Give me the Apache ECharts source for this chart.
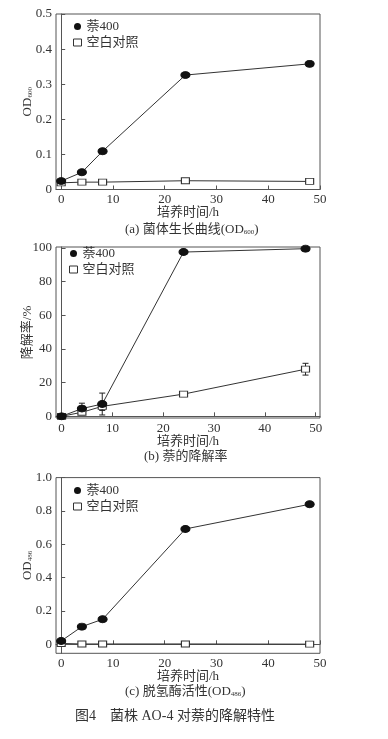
<!DOCTYPE html>
<html><head><meta charset="utf-8">
<script src="https://cdn.jsdelivr.net/npm/echarts@6/dist/echarts.min.js"></script>
<style>html,body{margin:0;padding:0;background:#fff;}#c{width:388px;height:739px;}</style>
</head><body><div id="c"></div>
<script>
const hours = [0, 4, 8, 24, 48];
const xTicks = [0, 10, 20, 30, 40, 50];
// (a) growth OD600
const odNaph = [0.024, 0.049, 0.109, 0.326, 0.358];
const odCtrl = [0.019, 0.021, 0.021, 0.025, 0.023];
const odTicks = [0, 0.1, 0.2, 0.3, 0.4, 0.5];
// (b) degradation rate %
const degNaph = [0, 4.6, 7.3, 97.6, 99.6];
const degNaphErr = [0, 3.2, 6.5, 0, 0];
const degCtrl = [0, 2.4, 5.9, 13.2, 28.0];
const degCtrlErr = [0, 1.2, 2.4, 1.5, 3.5];
const degTicks = [0, 20, 40, 60, 80, 100];
// (c) dehydrogenase OD486
const dhNaph = [0.02, 0.106, 0.15, 0.692, 0.84];
const dhCtrl = [0.005, 0.002, 0.002, 0.002, 0.001];
const dhTicks = [0, 0.2, 0.4, 0.6, 0.8, 1.0];
const names = ['萘400', '空白对照'];

const FONT = '"Liberation Serif", "Noto Sans CJK SC", serif';
const TXT = '#333';
const AX = '#555';
const pair = (xs, ys) => xs.map((x, i) => [x, ys[i]]);

const grids = [
  {left: 56, top: 14, width: 264, height: 175.5},
  {left: 56, top: 247, width: 264, height: 171},
  {left: 56, top: 477.6, width: 264, height: 175.7}
].map(g => Object.assign(g, {show: true, borderColor: AX, borderWidth: 1, containLabel: false}));

function xAxis(idx, min, max) {
  return {
    type: 'value', gridIndex: idx, min: min, max: max,
    name: '培养时间/h', nameLocation: 'middle', nameGap: 17, nameMoveOverlap: false,
    nameTextStyle: {fontFamily: FONT, fontSize: 13, color: TXT},
    axisLine: {show: true, lineStyle: {color: AX, width: 1}},
    axisTick: {show: true, inside: true, length: 4, customValues: xTicks, lineStyle: {color: AX}},
    axisLabel: {customValues: xTicks, fontFamily: FONT, fontSize: 13, color: TXT, margin: 4},
    splitLine: {show: false}
  };
}
function yAxis(idx, min, max, ticks, fmt, name) {
  return {
    type: 'value', gridIndex: idx, min: min, max: max,
    name: name, nameLocation: 'middle', nameGap: 22, nameRotate: 90, nameMoveOverlap: false,
    nameTextStyle: {fontFamily: FONT, fontSize: 13, color: TXT,
      rich: {a: {fontFamily: FONT, fontSize: 13, color: TXT}, b: {fontFamily: FONT, fontSize: 7, color: TXT, verticalAlign: 'bottom', padding: [6, 0, 0, 0]}}},
    axisLine: {show: true, lineStyle: {color: AX, width: 1}},
    axisTick: {show: true, inside: true, length: 4, customValues: ticks, lineStyle: {color: AX}},
    axisLabel: {customValues: ticks, formatter: fmt, fontFamily: FONT, fontSize: 13, color: TXT, margin: 4},
    splitLine: {show: false}
  };
}
const f1 = v => v === 0 ? '0' : v.toFixed(1);
const f0 = v => String(Math.round(v));

function lineSeries(i, name, data, filled) {
  return {
    type: 'line', name: name, xAxisIndex: i, yAxisIndex: i, data: data,
    symbol: filled ? 'circle' : 'rect', symbolSize: filled ? [9, 7] : [8, 6],
    lineStyle: {color: '#333', width: 1},
    itemStyle: filled ? {color: '#111', borderColor: '#111'} : {color: '#fff', borderColor: '#333', borderWidth: 1},
    z: filled ? 4 : 3, animation: false
  };
}
function errSeries(i, ys, errs) {
  return {
    type: 'custom', xAxisIndex: i, yAxisIndex: i, silent: true, animation: false, z: 2,
    data: hours.map((x, k) => [x, ys[k] - errs[k], ys[k] + errs[k]]).filter((d, k) => errs[k] > 0),
    renderItem: function (params, api) {
      const lo = api.coord([api.value(0), api.value(1)]);
      const hi = api.coord([api.value(0), api.value(2)]);
      const w = 3;
      const st = {stroke: '#222', lineWidth: 1};
      return {type: 'group', children: [
        {type: 'line', shape: {x1: lo[0], y1: lo[1], x2: hi[0], y2: hi[1]}, style: st},
        {type: 'line', shape: {x1: lo[0] - w, y1: lo[1], x2: lo[0] + w, y2: lo[1]}, style: st},
        {type: 'line', shape: {x1: hi[0] - w, y1: hi[1], x2: hi[0] + w, y2: hi[1]}, style: st}
      ]};
    }
  };
}
function legend(left, top) {
  return {
    orient: 'vertical', left: left, top: top, itemGap: 3, itemWidth: 8, itemHeight: 7,
    textStyle: {fontFamily: FONT, fontSize: 13, color: TXT},
    selectedMode: false, padding: 0,
    data: [
      {name: names[0], icon: 'circle', itemStyle: {color: '#111', borderWidth: 0}},
      {name: names[1], icon: 'rect', itemStyle: {color: '#fff', borderColor: '#333', borderWidth: 1}}
    ]
  };
}
const rich = {
  t: {fontFamily: FONT, fontSize: 13, color: TXT},
  s: {fontFamily: FONT, fontSize: 7, color: TXT, verticalAlign: 'bottom', padding: [6, 0, 0, 0]}
};
function caption(text, top, size) {
  return {text: text, left: 'center', top: top, padding: 0,
    textStyle: {fontFamily: FONT, fontSize: size || 13, fontWeight: 'normal', color: TXT, rich: rich}};
}

const option = {
  backgroundColor: '#fff',
  animation: false,
  grid: grids,
  title: [
    Object.assign(caption('{t|(a) 菌体生长曲线(OD}{s|600}{t|)}', 223), {left: 125}),
    Object.assign(caption('(b) 萘的降解率', 450), {left: 144}),
    Object.assign(caption('{t|(c) 脱氢酶活性(OD}{s|486}{t|)}', 685), {left: 125}),
    Object.assign(caption('图4　菌株 AO-4 对萘的降解特性', 709, 14), {left: 75})
  ],
  legend: [legend(73, 20), legend(69, 247), legend(73, 484)],
  xAxis: [xAxis(0, -1, 50), xAxis(1, -1.1, 50.85), xAxis(2, -1, 50)],
  yAxis: [
    yAxis(0, 0, 0.5, odTicks, f1, '{a|OD}{b|600}'),
    yAxis(1, -1, 100.6, degTicks, f0, '降解率/%'),
    yAxis(2, -0.054, 1.0, dhTicks, f1, '{a|OD}{b|486}')
  ],
  series: [
    lineSeries(0, names[1], pair(hours, odCtrl), false),
    lineSeries(0, names[0], pair(hours, odNaph), true),
    errSeries(1, degNaph, degNaphErr),
    errSeries(1, degCtrl, degCtrlErr),
    lineSeries(1, names[1], pair(hours, degCtrl), false),
    lineSeries(1, names[0], pair(hours, degNaph), true),
    lineSeries(2, names[1], pair(hours, dhCtrl), false),
    lineSeries(2, names[0], pair(hours, dhNaph), true)
  ]
};
const chart = echarts.init(document.getElementById('c'), null, {renderer: 'canvas'});
chart.setOption(option);
</script>
</body></html>
